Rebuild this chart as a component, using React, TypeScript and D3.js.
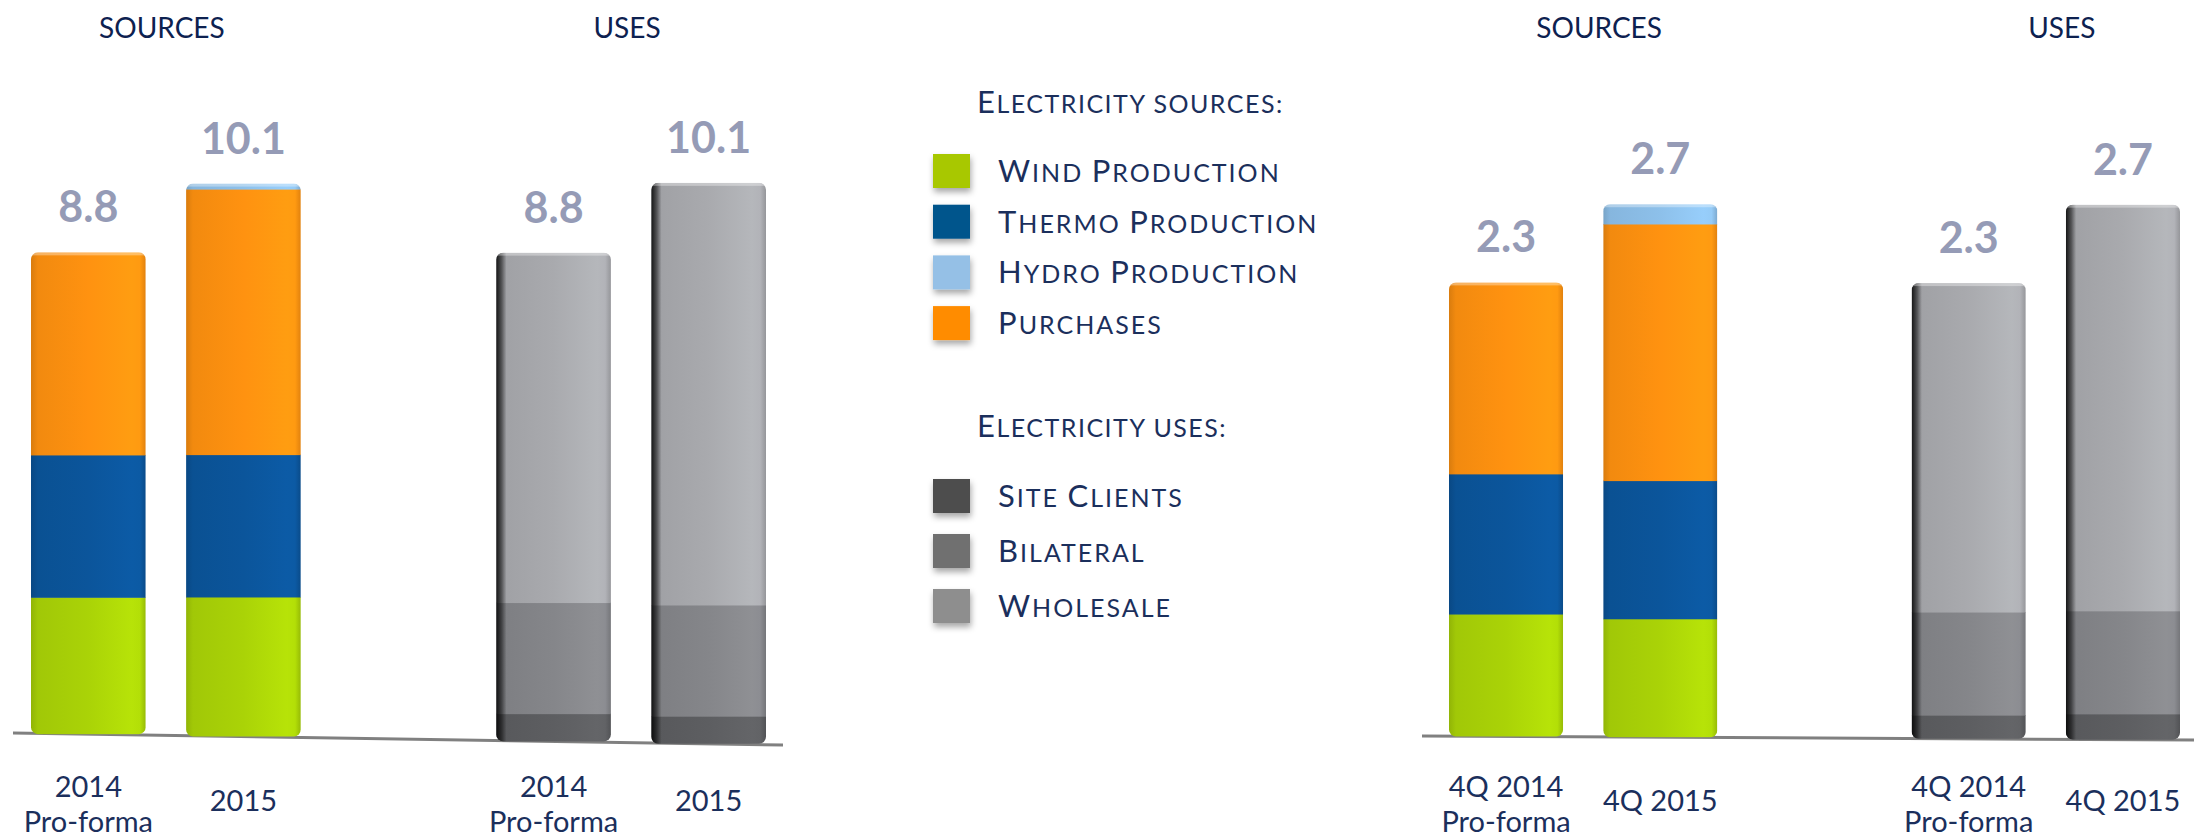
import { useRef, useEffect } from "react";
import * as d3 from "d3";

const sourceKeys = ["Wind Production", "Thermo Production", "Hydro Production", "Purchases"];
const sourceStackOrder = ["Wind Production", "Thermo Production", "Purchases", "Hydro Production"];
const useKeys = ["Site Clients", "Bilateral", "Wholesale"];
const sourceColors = ["#aad307", "#0b559b", "#8dc0ea", "#ff9210"];
const useColors = ["#5d5e61", "#85868a", "#a9aaae"];
const sourceSwatches = ["#a8c800", "#02548c", "#95c0e6", "#ff8c00"];
const useSwatches = ["#4d4d4d", "#707070", "#8e8e8e"];

const annualPeriods = ["2014 Pro-forma", "2015"];
const annualSources = [
  [2.5, 2.6, 0, 3.7],
  [2.55, 2.6, 0.1, 4.85],
];
const annualUses = [
  [0.5, 2.0, 6.3],
  [0.5, 2.0, 7.6],
];
const annualTotals = ["8.8", "10.1"];

const quarterPeriods = ["4Q 2014 Pro-forma", "4Q 2015"];
const quarterSources = [
  [0.62, 0.71, 0, 0.97],
  [0.6, 0.7, 0.1, 1.3],
];
const quarterUses = [
  [0.12, 0.52, 1.66],
  [0.13, 0.52, 2.05],
];
const quarterTotals = ["2.3", "2.7"];

const groupTitles = ["SOURCES", "USES"];
const legendTitles = ["Electricity sources:", "Electricity uses:"];

const width = 2211;
const height = 840;
const font = "Lato, 'Open Sans', sans-serif";
const navy = "#1b2f5c";

// layout of the two panels (annual on the left, quarter on the right)
const panels = [
  { periods: annualPeriods, sources: annualSources, uses: annualUses, totals: annualTotals, x0: 31, x1: 766, axis: [[13, 733], [783, 745]], maxH: 553, usesMaxH: 561, titleShift: -4 },
  { periods: quarterPeriods, sources: quarterSources, uses: quarterUses, totals: quarterTotals, x0: 1449, x1: 2180, axis: [[1422, 736], [2194, 740]], maxH: 533, usesMaxH: 535, titleShift: 16 },
];

// split "Wind Production" into big / small cap runs
const smallCapRuns = (s) => {
  const runs = [];
  for (const c of s) {
    const big = c !== c.toLowerCase();
    const last = runs[runs.length - 1];
    if (last && last.big === big) last.t += c;
    else runs.push({ big, t: c });
  }
  return runs;
};

const App = () => {
  const svgRef = useRef(null);

  useEffect(() => {
    const svg = d3.select(svgRef.current);
    svg.selectAll("*").remove();
    const defs = svg.append("defs");

    const allColors = [...sourceColors, ...useColors];
    allColors.forEach((c, i) => {
      const g = defs.append("linearGradient").attr("id", `fill${i}`).attr("x1", 0).attr("x2", 1).attr("y1", 0).attr("y2", 0);
      const base = d3.color(c);
      [
        [0, base.darker(0.45)],
        [0.06, base.darker(0.15)],
        [0.5, base],
        [0.88, base.brighter(0.2)],
        [0.95, base.brighter(0.15)],
        [1, base.darker(0.35)],
      ].forEach(([o, col]) => g.append("stop").attr("offset", o).attr("stop-color", col.formatHex()));
    });

    const edge = defs.append("linearGradient").attr("id", "useEdge").attr("x1", 0).attr("x2", 1);
    edge.append("stop").attr("offset", 0).attr("stop-color", "#000").attr("stop-opacity", 0.85);
    edge.append("stop").attr("offset", 0.05).attr("stop-color", "#000").attr("stop-opacity", 0.45);
    edge.append("stop").attr("offset", 0.09).attr("stop-color", "#000").attr("stop-opacity", 0);

    const sh = defs.append("filter").attr("id", "swShadow").attr("x", "-30%").attr("y", "-30%").attr("width", "160%").attr("height", "170%");
    sh.append("feDropShadow").attr("dx", 1).attr("dy", 4).attr("stdDeviation", 3).attr("flood-color", "#000").attr("flood-opacity", 0.35);

    let clipId = 0;

    panels.forEach((p) => {
      const outer = d3.scaleBand().domain(groupTitles).range([p.x0, p.x1]).paddingInner(0.42);
      const inner = d3.scaleBand().domain(p.periods).range([0, outer.bandwidth()]).paddingInner(0.26);
      const maxTotal = d3.max(p.sources, (r) => d3.sum(r));
      const hSrc = d3.scaleLinear().domain([0, maxTotal]).range([0, p.maxH]);
      const hUse = d3.scaleLinear().domain([0, maxTotal]).range([0, p.usesMaxH]);
      const baseAt = d3.scaleLinear().domain([p.axis[0][0], p.axis[1][0]]).range([p.axis[0][1], p.axis[1][1]]);

      // axis line
      svg.append("line")
        .attr("x1", p.axis[0][0]).attr("y1", p.axis[0][1])
        .attr("x2", p.axis[1][0]).attr("y2", p.axis[1][1])
        .attr("stroke", "#808080").attr("stroke-width", 3);

      // group titles
      groupTitles.forEach((t) => {
        svg.append("text")
          .attr("x", outer(t) + outer.bandwidth() / 2 + p.titleShift).attr("y", 38)
          .attr("text-anchor", "middle").attr("font-family", font).attr("font-size", 28)
          .attr("fill", "#0d2150").text(t);
      });

      const groups = [
        { title: "SOURCES", rows: p.sources, keys: sourceKeys, order: sourceStackOrder, colorOffset: 0, isUse: false, h: hSrc },
        { title: "USES", rows: p.uses, keys: useKeys, order: useKeys, colorOffset: sourceColors.length, isUse: true, h: hUse },
      ];

      groups.forEach((grp) => {
        const h = grp.h;
        const data = p.periods.map((per, i) => {
          const o = { period: per };
          grp.keys.forEach((k, j) => (o[k] = grp.rows[i][j]));
          return o;
        });
        const series = d3.stack().keys(grp.order)(data);
        const colorIdx = (key) => grp.colorOffset + grp.keys.indexOf(key);

        p.periods.forEach((per, i) => {
          const x = outer(grp.title) + inner(per);
          const w = inner.bandwidth();
          const cx = x + w / 2;
          const base = baseAt(cx);
          const total = d3.sum(grp.rows[i]);
          const id = `barClip${clipId++}`;
          defs.append("clipPath").attr("id", id)
            .append("rect").attr("x", x).attr("y", base - h(total)).attr("width", w).attr("height", h(total)).attr("rx", 7);

          const bar = svg.append("g").attr("clip-path", `url(#${id})`);
          bar.selectAll("rect.seg")
            .data(series.filter((s) => s[i][1] - s[i][0] > 0))
            .join("rect")
            .attr("class", "seg")
            .attr("x", x)
            .attr("y", (s) => base - h(s[i][1]))
            .attr("width", w)
            .attr("height", (s) => h(s[i][1]) - h(s[i][0]) + 0.5)
            .attr("fill", (s) => `url(#fill${colorIdx(s.key)})`);
          if (grp.isUse) {
            bar.append("rect").attr("x", x).attr("y", base - h(total)).attr("width", w).attr("height", h(total)).attr("fill", "url(#useEdge)");
          }
          bar.append("rect").attr("x", x).attr("y", base - h(total)).attr("width", w).attr("height", 3).attr("fill", "#fff").attr("opacity", 0.35);

          // total label
          svg.append("text")
            .attr("x", cx).attr("y", base - h(total) - 30)
            .attr("text-anchor", "middle").attr("font-family", font).attr("font-weight", 700)
            .attr("font-size", 43).attr("fill", "#959bb6")
            .text(p.totals[i]);

          // period label
          const lines = per.includes(" Pro-forma") ? [per.replace(" Pro-forma", ""), "Pro-forma"] : [per];
          const lbl = svg.append("text")
            .attr("text-anchor", "middle").attr("font-family", font).attr("font-size", 29)
            .attr("fill", navy);
          lines.forEach((ln, li) => {
            lbl.append("tspan").attr("x", cx)
              .attr("y", lines.length === 1 ? 811 : 797 + li * 35)
              .text(ln);
          });
        });
      });
    });

    // legend
    const legendGroups = [
      { title: legendTitles[0], keys: sourceKeys, colors: sourceSwatches, headY: 113, y0: 171, step: 50.7 },
      { title: legendTitles[1], keys: useKeys, colors: useSwatches, headY: 437, y0: 496, step: 55 },
    ];
    const writeCaps = (sel, s) => {
      sel.selectAll("tspan").data(smallCapRuns(s)).join("tspan")
        .attr("font-size", (d) => (d.big ? 31 : 25))
        .text((d) => d.t.toUpperCase());
    };
    legendGroups.forEach((lg) => {
      const head = svg.append("text").attr("x", 977).attr("y", lg.headY)
        .attr("font-family", font).attr("fill", navy).attr("letter-spacing", 1.5);
      writeCaps(head, lg.title);
      lg.keys.forEach((k, i) => {
        const cy = lg.y0 + i * lg.step;
        svg.append("rect").attr("x", 933).attr("y", cy - 17).attr("width", 37).attr("height", 34)
          .attr("fill", lg.colors[i]).attr("filter", "url(#swShadow)");
        const t = svg.append("text").attr("x", 998).attr("y", cy + 11)
          .attr("font-family", font).attr("fill", navy).attr("letter-spacing", 2);
        writeCaps(t, k);
      });
    });
  }, []);

  return (
    <svg
      ref={svgRef}
      width={width}
      height={height}
      style={{ position: "absolute", left: 0, top: 0, background: "#fff", display: "block" }}
    ></svg>
  );
};

export default App;
